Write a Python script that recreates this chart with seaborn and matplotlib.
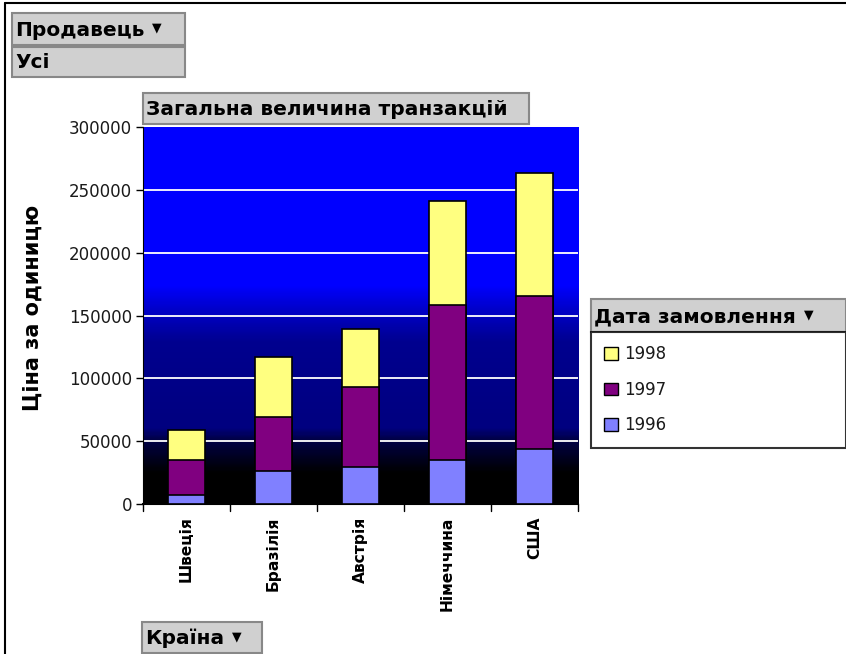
import numpy as np
import pandas as pd
import matplotlib
matplotlib.use("Agg")
import matplotlib.pyplot as plt
import seaborn as sns
from matplotlib.colors import LinearSegmentedColormap
from matplotlib.patches import Patch, Rectangle
from matplotlib.lines import Line2D

countries = ["Швеція", "Бразілія", "Австрія", "Німеччина", "США"]
v1996 = [7400, 26000, 29100, 34700, 43700]
v1997 = [27800, 43600, 63800, 123600, 121800]
v1998 = [23800, 47700, 46400, 82700, 98200]
years = ["1998", "1997", "1996"]
colors = {"1996": "#8080ff", "1997": "#800080", "1998": "#ffff80"}

sns.set_style("white")
plt.rcParams["font.family"] = ["DejaVu Sans"]
plt.rcParams["text.color"] = "black"
plt.rcParams["xtick.color"] = "black"
plt.rcParams["ytick.color"] = "black"

fig = plt.figure(figsize=(8.46, 6.54), dpi=100)
W, H = 846, 654
def fx(px): return px / W
def fy(py): return 1 - py / H

ax = fig.add_axes([fx(143), fy(504), fx(578) - fx(143), fy(127) - fy(504)])

# background gradient
cmap = LinearSegmentedColormap.from_list("bg", [
    (0.0, (0, 0, 0)), (0.08, (0, 0, 0)), (0.17, (0, 0, 0.28)), (0.2, (0, 0, 0.5)),
    (0.43, (0, 0, 0.56)), (0.52, (0, 0, 0.8)), (0.58, (0, 0, 1)), (1.0, (0, 0, 1))])
grad = np.linspace(0, 1, 300).reshape(-1, 1)
ax.imshow(grad, cmap=cmap, origin="lower", aspect="auto", extent=[0, 1, 0, 1],
          transform=ax.transAxes, zorder=0)

c1 = np.array(v1996)
c2 = c1 + np.array(v1997)
c3 = c2 + np.array(v1998)
df = pd.DataFrame({"Країна": countries, "1996": c1, "1997": c2, "1998": c3})
for yr in years:
    sns.barplot(data=df, x="Країна", y=yr, color=colors[yr], saturation=1,
                edgecolor="black", linewidth=1.2, width=0.42, ax=ax, zorder=3)

ax.set_ylim(0, 300000)
ax.set_xlim(-0.5, 4.5)
ax.set_yticks(np.arange(0, 300001, 50000))
ax.set_yticklabels([str(v) for v in range(0, 300001, 50000)], fontsize=12, color="#1a1a1a")
for v in range(50000, 300000, 50000):
    ax.axhline(v, color="white", lw=1.3, zorder=1)
ax.set_xticks(np.arange(5))
ax.set_xticklabels(countries, rotation=90, fontsize=11.2, fontweight="bold", va="top")
ax.tick_params(axis="x", length=0, pad=9)
ax.tick_params(axis="y", length=5, left=True, direction="out", width=1, pad=3)
for b in np.arange(-0.5, 5, 1):
    ax.plot([b, b], [0, -0.018], transform=ax.get_xaxis_transform(), color="black",
            lw=1, clip_on=False)
ax.set_xlabel("")
ax.set_ylabel("")
for s in ["top", "right"]:
    ax.spines[s].set_visible(False)
ax.spines["left"].set_color("black")
ax.spines["bottom"].set_color("black")
ax.spines["bottom"].set_linewidth(1.5)

fig.text(fx(33), fy(308), "Ціна за одиницю", rotation=90, fontsize=15,
         fontweight="bold", ha="center", va="center")

def button(x0, y0, x1, y1, text, arrow=False, size=14.5):
    fig.patches.append(Rectangle((fx(x0), fy(y1)), fx(x1) - fx(x0), fy(y0) - fy(y1),
                                 transform=fig.transFigure, facecolor="#d0d0d0",
                                 edgecolor="#888888", lw=1.5))
    t = fig.text(fx(x0 + 3), fy((y0 + y1) / 2 + 1), text, fontsize=size, fontweight="bold",
                 ha="left", va="center")
    if arrow:
        fig.canvas.draw()
        bb = t.get_window_extent()
        fig.text(bb.x1 / W + fx(8), fy((y0 + y1) / 2 - 1), "▼", fontsize=9,
                 ha="left", va="center")

button(12, 13, 185, 45, "Продавець", arrow=True)
button(12, 47, 185, 77, "Усі")
button(143, 93, 529, 124, "Загальна величина транзакцій")
button(591, 299, 846, 332, "Дата замовлення", arrow=True)
button(142, 622, 262, 653, "Країна", arrow=True)

# figure border (top and left)
fig.lines.append(Line2D([fx(5), fx(846)], [fy(3), fy(3)], transform=fig.transFigure,
                        color="black", lw=1.5))
fig.lines.append(Line2D([fx(5), fx(5)], [fy(3), fy(654)], transform=fig.transFigure,
                        color="black", lw=1.5))

handles = [Patch(facecolor=colors[y], edgecolor="black", label=y) for y in years]
leg = fig.legend(handles=handles, loc="upper left",
                 bbox_to_anchor=(fx(591), fy(332), fx(846) - fx(591), 0.0001),
                 mode="expand", frameon=True, fancybox=False, fontsize=12,
                 labelspacing=1.05, handlelength=0.8, handleheight=0.8,
                 handletextpad=0.4, borderpad=0.8, borderaxespad=0)
leg.get_frame().set_edgecolor("black")
leg.get_frame().set_linewidth(1.5)
for t in leg.get_texts():
    t.set_color("#1a1a1a")

fig.savefig("out.png", dpi=100)
